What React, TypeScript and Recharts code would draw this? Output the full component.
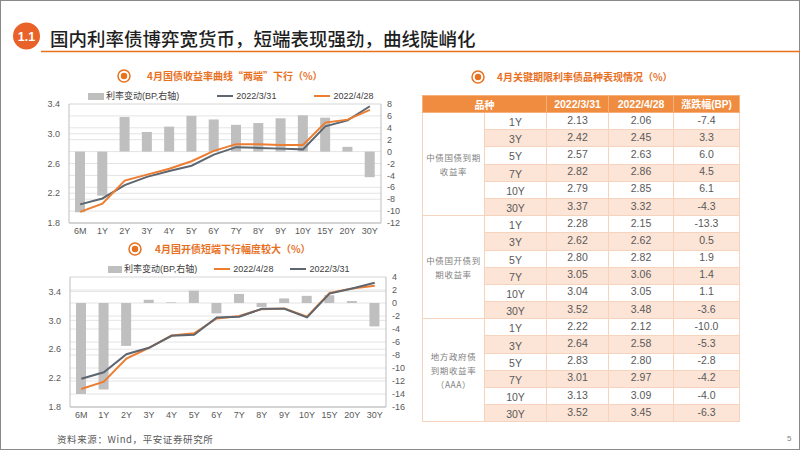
import React from 'react';
import { ComposedChart, Bar, Line, XAxis, YAxis, CartesianGrid, Legend } from 'recharts';

// ---------- data ----------
const tenors = ['6M', '1Y', '2Y', '3Y', '4Y', '5Y', '6Y', '7Y', '8Y', '9Y', '10Y', '15Y', '20Y', '30Y'];

const govYield0331 = [2.05, 2.13, 2.31, 2.42, 2.50, 2.57, 2.72, 2.82, 2.81, 2.80, 2.79, 3.10, 3.18, 3.37];
const govYield0428 = [1.95, 2.06, 2.37, 2.45, 2.53, 2.63, 2.77, 2.86, 2.86, 2.85, 2.85, 3.15, 3.19, 3.32];
const govChange = [-10.2, -7.4, 5.8, 3.3, 4.2, 6.0, 5.4, 4.5, 4.8, 5.6, 6.1, 5.7, 0.8, -4.3];

const cdbYield0331 = [2.19, 2.28, 2.53, 2.62, 2.785, 2.80, 3.04, 3.05, 3.16, 3.16, 3.04, 3.37, 3.44, 3.52];
const cdbYield0428 = [2.05, 2.15, 2.47, 2.62, 2.79, 2.82, 3.025, 3.06, 3.155, 3.165, 3.05, 3.38, 3.44, 3.48];
const cdbChange = [-14.0, -13.3, -6.6, 0.5, 0.1, 1.9, -1.6, 1.4, -0.6, 0.7, 1.1, 1.2, 0.3, -3.6];

const leftTicks = [1.8, 2.2, 2.6, 3.0, 3.4];
const govRightTicks = [-12, -10, -8, -6, -4, -2, 0, 2, 4, 6, 8];
const cdbRightTicks = [-16, -14, -12, -10, -8, -6, -4, -2, 0, 2, 4];

const seriesNames = { chg: '利率变动(BP,右轴)', d0331: '2022/3/31', d0428: '2022/4/28' };

const tableGroups = [['中债国债到期', '收益率'], ['中债国开债到', '期收益率'], ['地方政府债', '到期收益率', '（AAA）']];
const tableTerms = ['1Y', '3Y', '5Y', '7Y', '10Y', '30Y'];
const tbl0331 = [
  [2.13, 2.42, 2.57, 2.82, 2.79, 3.37],
  [2.28, 2.62, 2.80, 3.05, 3.04, 3.52],
  [2.22, 2.64, 2.83, 3.01, 3.13, 3.52],
];
const tbl0428 = [
  [2.06, 2.45, 2.63, 2.86, 2.85, 3.32],
  [2.15, 2.62, 2.82, 3.06, 3.05, 3.48],
  [2.12, 2.58, 2.80, 2.97, 3.09, 3.45],
];
const tblChange = [
  [-7.4, 3.3, 6.0, 4.5, 6.1, -4.3],
  [-13.3, 0.5, 1.9, 1.4, 1.1, -3.6],
  [-10.0, -5.3, -2.8, -4.2, -4.0, -6.3],
];
const tableHeader = ['品种', '2022/3/31', '2022/4/28', '涨跌幅(BP)'];

const govData = tenors.map((t, i) => ({ tenor: t, d0331: govYield0331[i], d0428: govYield0428[i], chg: govChange[i] }));
const cdbData = tenors.map((t, i) => ({ tenor: t, d0331: cdbYield0331[i], d0428: cdbYield0428[i], chg: cdbChange[i] }));

// ---------- styles ----------
const FONT = "'Liberation Sans', Arial, 'Noto Sans CJK SC', sans-serif";
const CJK = "'Noto Sans CJK SC', 'Liberation Sans', sans-serif";
const ORANGE = '#ED7D31';
const GRAYLINE = '#5E6670';
const BARGRAY = '#BFBFBF';
const TITLE_ORANGE = '#E8711F';

const tickStyle = { fontSize: 9, fill: '#595959', fontFamily: FONT };

function makeLegend(order: string[], padLeft: number, gap: number, barW: number) {
  return (props: any) => {
    const items = [...(props.payload || [])].sort(
      (a: any, b: any) => order.indexOf(a.dataKey) - order.indexOf(b.dataKey)
    );
    return (
      <div style={{ display: 'flex', alignItems: 'center', paddingLeft: padLeft, gap, fontSize: 9, fontFamily: FONT, color: '#404040', whiteSpace: 'nowrap', lineHeight: '12px' }}>
        {items.map((it: any, i: number) => (
          <div key={i} style={{ display: 'flex', alignItems: 'center' }}>
            {it.type === 'rect' ? (
              <span style={{ display: 'inline-block', width: barW, height: 7, background: it.color, marginRight: 2 }} />
            ) : (
              <span style={{ display: 'inline-block', width: 16, height: 2, background: it.color, marginRight: 3 }} />
            )}
            <span>{it.value}</span>
          </div>
        ))}
      </div>
    );
  };
}

function TitleIcon({ x, y }: { x: number; y: number }) {
  return (
    <svg style={{ position: 'absolute', left: x - 8, top: y - 8 }} width={16} height={16}>
      <circle cx={8} cy={8} r={6} fill="none" stroke={TITLE_ORANGE} strokeWidth={1.5} />
      <circle cx={8} cy={8} r={3.2} fill={TITLE_ORANGE} />
    </svg>
  );
}

function SubTitle({ x, y, text }: { x: number; y: number; text: string }) {
  return (
    <div style={{ position: 'absolute', left: x, top: y - 8, height: 16, lineHeight: '16px', fontSize: 10, fontWeight: 700, color: TITLE_ORANGE, fontFamily: CJK, whiteSpace: 'nowrap' }}>
      {text}
    </div>
  );
}

function YieldChart({ data, top, width, height, leftW, leftMax, rightTicks, lineOrder, legendPad, legendGap, barW, legendTop }: any) {
  const order = ['chg', ...lineOrder];
  return (
    <div style={{ position: 'absolute', left: 0, top }}>
      <ComposedChart width={width} height={height} data={data} margin={{ top: 19, right: 0, bottom: 0, left: 0 }}>
        <CartesianGrid yAxisId="left" vertical={false} stroke="#E4E4E4" />
        <CartesianGrid yAxisId="right" vertical={false} stroke="#E4E4E4" />
        <XAxis dataKey="tenor" xAxisId={0} interval={0} tickLine={false} tickSize={0} tickMargin={5} height={20} tick={tickStyle} axisLine={{ stroke: '#BFBFBF' }} />
        <YAxis yAxisId="left" orientation="left" width={leftW} domain={[1.8, leftMax]} ticks={leftTicks} interval={0} tickFormatter={(v: number) => v.toFixed(1)} tickLine={false} tickSize={0} tickMargin={9} tick={tickStyle} axisLine={{ stroke: '#BFBFBF' }} allowDataOverflow />
        <YAxis yAxisId="right" orientation="right" width={39} domain={[rightTicks[0], rightTicks[rightTicks.length - 1]]} ticks={rightTicks} interval={0} tickLine={false} tickSize={0} tickMargin={6} tick={tickStyle} axisLine={{ stroke: '#BFBFBF' }} />
        <Legend verticalAlign="middle" layout="horizontal" wrapperStyle={{ top: legendTop, left: 0, width }} content={makeLegend(order, legendPad, legendGap, barW)} />
        <Bar yAxisId="right" dataKey="chg" name={seriesNames.chg} fill={BARGRAY} barSize={10} isAnimationActive={false} />
        {lineOrder.map((k: string) => (
          <Line key={k} yAxisId="left" type="linear" dataKey={k} name={(seriesNames as any)[k]} stroke={k === 'd0428' ? ORANGE : GRAYLINE} strokeWidth={2} dot={false} isAnimationActive={false} />
        ))}
      </ComposedChart>
    </div>
  );
}

const colWidths = [62, 62, 62, 65, 66];

function RateTable() {
  const cellBorder = '1px solid #F6D3BC';
  const rowH = 17.19;
  return (
    <table style={{ position: 'absolute', left: 422, top: 95, borderCollapse: 'collapse', tableLayout: 'fixed', width: 317, fontFamily: FONT, fontSize: 10.5, color: '#595959' }}>
      <colgroup>
        {colWidths.map((w, i) => <col key={i} style={{ width: w }} />)}
      </colgroup>
      <thead>
        <tr style={{ height: 17 }}>
          {tableHeader.map((h, i) => (
            <th key={i} colSpan={i === 0 ? 2 : 1} style={{ background: '#F08C3F', color: '#fff', fontWeight: 700, fontSize: i === 0 || i === 3 ? 10 : 10.5, fontFamily: i === 0 ? CJK : FONT, padding: 0, border: '1px solid #F5B07E', lineHeight: '15px' }}>
              {h}
            </th>
          ))}
        </tr>
      </thead>
      <tbody>
        {tableGroups.map((g, gi) =>
          tableTerms.map((term, ti) => {
            const bg = ti % 2 === 1 ? '#FCE4D6' : '#FFFFFF';
            return (
              <tr key={gi + '-' + ti} style={{ height: rowH }}>
                {ti === 0 && (
                  <td rowSpan={6} style={{ background: '#fff', border: cellBorder, textAlign: 'center', verticalAlign: 'middle', padding: 0, fontFamily: CJK, fontSize: 8.5, letterSpacing: 0.6, color: '#7F7F7F', lineHeight: '14px' }}>
                    {g.map((line, li) => <div key={li}>{line}</div>)}
                  </td>
                )}
                <td style={{ background: bg, border: cellBorder, textAlign: 'center', padding: '3px 0 0 0', lineHeight: '13px', height: rowH - 4 }}>{term}</td>
                <td style={{ background: bg, border: cellBorder, textAlign: 'center', padding: '0 0 2px 0', lineHeight: '13px' }}>{tbl0331[gi][ti].toFixed(2)}</td>
                <td style={{ background: bg, border: cellBorder, textAlign: 'center', padding: '0 0 2px 0', lineHeight: '13px' }}>{tbl0428[gi][ti].toFixed(2)}</td>
                <td style={{ background: bg, border: cellBorder, textAlign: 'center', padding: '0 0 2px 0', lineHeight: '13px' }}>{tblChange[gi][ti].toFixed(1)}</td>
              </tr>
            );
          })
        )}
      </tbody>
    </table>
  );
}

export default function App() {
  return (
    <div style={{ position: 'absolute', left: 0, top: 0, width: 802, height: 451, background: '#fff', overflow: 'hidden', fontFamily: FONT }}>
      {/* slide frame */}
      <div style={{ position: 'absolute', left: 0, top: 0, width: 800, height: 450, border: '1.5px solid #8A8A8A', boxSizing: 'border-box' }} />

      {/* main title */}
      <svg style={{ position: 'absolute', left: 0, top: 0 }} width={802} height={60}>
        <line x1={41} y1={51.5} x2={800} y2={51.5} stroke={TITLE_ORANGE} strokeWidth={1.5} />
        <circle cx={26.5} cy={36} r={13.5} fill="#E8622A" />
        <text x={26.5} y={40.5} textAnchor="middle" fontSize={12.5} fontWeight={700} fill="#fff" fontFamily={FONT}>1.1</text>
      </svg>
      <div style={{ position: 'absolute', left: 50, top: 26, height: 24, lineHeight: '24px', fontSize: 18.5, color: '#1F1F1F', fontFamily: CJK, fontWeight: 500, whiteSpace: 'nowrap' }}>
        国内利率债博弈宽货币，短端表现强劲，曲线陡峭化
      </div>

      {/* chart 1 */}
      <TitleIcon x={124} y={76} />
      <SubTitle x={147} y={76} text="4月国债收益率曲线“两端”下行（%）" />
      <YieldChart data={govData} top={85} width={420} height={158} leftW={69} leftMax={3.4} rightTicks={govRightTicks} lineOrder={['d0331', 'd0428']} legendPad={88} legendGap={38} barW={16} legendTop={5} />

      {/* chart 2 */}
      <TitleIcon x={135} y={249} />
      <SubTitle x={155} y={249} text="4月国开债短端下行幅度较大（%）" />
      <YieldChart data={cdbData} top={258} width={425} height={169} leftW={70} leftMax={3.6} rightTicks={cdbRightTicks} lineOrder={['d0428', 'd0331']} legendPad={108} legendGap={17} barW={14} legendTop={5} />

      {/* table */}
      <TitleIcon x={478} y={77} />
      <SubTitle x={497} y={77} text="4月关键期限利率债品种表现情况（%）" />
      <RateTable />

      {/* source & page number */}
      <div style={{ position: 'absolute', left: 57, top: 432, fontSize: 9.5, letterSpacing: 0.6, color: '#595959', fontFamily: CJK, whiteSpace: 'nowrap', lineHeight: '14px' }}>
        资料来源：Wind，平安证券研究所
      </div>
      <div style={{ position: 'absolute', left: 787, top: 434, fontSize: 8, color: '#7F7F7F', fontFamily: FONT }}>5</div>
    </div>
  );
}
